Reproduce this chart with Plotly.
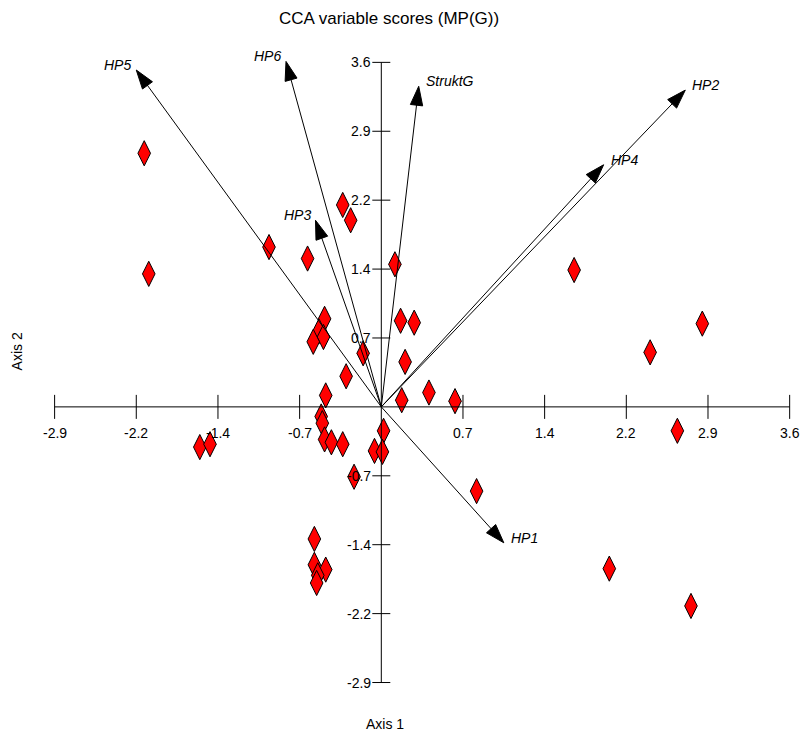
import plotly.graph_objects as go

# ---- data ----
site_x = [-2.09, -2.05, -0.99, -0.65, -0.34, -0.27, 0.12, 1.70, 2.83, 2.37, 2.61,
          0.65, 0.42, 0.21, 0.17, 0.29, 0.18,
          -0.50, -0.55, -0.51, -0.60, -0.16, -0.31, -0.49, -0.53, -0.52, -0.50, -0.44, -0.34,
          0.02, -0.06, 0.01, -0.24, 0.84, -1.60, -1.51,
          -0.59, -0.59, -0.49, -0.56, -0.57, 2.01, 2.73]
site_y = [2.65, 1.39, 1.67, 1.55, 2.11, 1.95, 1.49, 1.43, 0.87, 0.57, -0.25,
          0.06, 0.15, 0.47, 0.90, 0.88, 0.07,
          0.92, 0.79, 0.73, 0.68, 0.56, 0.32, 0.12, -0.10, -0.17, -0.34, -0.37, -0.39,
          -0.25, -0.46, -0.47, -0.73, -0.88, -0.42, -0.39,
          -1.38, -1.65, -1.70, -1.76, -1.84, -1.69, -2.08]

var_names = ["HP5", "HP6", "HP3", "StruktG", "HP2", "HP4", "HP1"]
var_x = [-2.16, -0.84, -0.58, 0.33, 2.68, 1.96, 1.08]
var_y = [3.52, 3.61, 1.95, 3.35, 3.31, 2.53, -1.42]

tick_vals = [-2.88, -2.16, -1.44, -0.72, 0.72, 1.44, 2.16, 2.88, 3.6]
tick_labels = ["-2.9", "-2.2", "-1.4", "-0.7", "0.7", "1.4", "2.2", "2.9", "3.6"]

x_range = [-3.0, 3.7]
y_range = [-3.0, 3.75]

FONT = "Liberation Sans, Arial, sans-serif"

W, H = 803, 735
ox, oy = 381.0, 407.0          # origin position in pixels
sx, sy = 113.5, 95.7           # pixels per unit
L = ox + x_range[0] * sx
Rpx = ox + x_range[1] * sx
T = oy - y_range[1] * sy
Bpx = oy - y_range[0] * sy
R = W - Rpx
B = H - Bpx
pw, ph = Rpx - L, Bpx - T

def px(xp):
    return (xp - L) / pw

def py(yp):
    return (Bpx - yp) / ph

fig = go.Figure()
fig.add_trace(go.Scatter(
    x=site_x, y=site_y, mode="markers",
    marker=dict(symbol="diamond-tall", size=18, color="#ff0000",
                line=dict(color="black", width=1)),
    cliponaxis=False, hoverinfo="x+y", showlegend=False))

# biplot arrows as line + arrow marker
for n, vx, vy in zip(var_names, var_x, var_y):
    fig.add_trace(go.Scatter(
        x=[0, vx], y=[0, vy], mode="lines+markers",
        line=dict(color="black", width=1),
        marker=dict(symbol=["circle", "arrow"], size=[0, 20], angleref="previous",
                    color="black", opacity=1, line=dict(width=1, color="black")),
        cliponaxis=False, name=n, hoverinfo="name", showlegend=False))

shapes = []
annotations = []
for v in tick_vals:
    shapes.append(dict(type="line", xref="x", yref="y", x0=v, x1=v,
                       ysizemode="pixel", yanchor=0, y0=-12, y1=12,
                       line=dict(color="black", width=1)))
    shapes.append(dict(type="line", xref="x", yref="y", y0=v, y1=v,
                       xsizemode="pixel", xanchor=0, x0=-9, x1=9,
                       line=dict(color="black", width=1)))
shapes.append(dict(type="line", xref="x", yref="y", x0=tick_vals[0], x1=tick_vals[-1],
                   y0=0, y1=0, line=dict(color="black", width=1)))
shapes.append(dict(type="line", xref="x", yref="y", y0=tick_vals[0], y1=tick_vals[-1],
                   x0=0, x1=0, line=dict(color="black", width=1)))

for v, t in zip(tick_vals, tick_labels):
    annotations.append(dict(x=v, y=0, xref="x", yref="y", text=t, showarrow=False,
                            yanchor="middle", xanchor="center", yshift=-26,
                            font=dict(family=FONT, size=14, color="black")))
    annotations.append(dict(x=0, y=v, xref="x", yref="y", text=t, showarrow=False,
                            xanchor="right", yanchor="middle", xshift=-8,
                            font=dict(family=FONT, size=14, color="black")))

for n, vx, vy in zip(var_names, var_x, var_y):
    left = vx < 0
    annotations.append(dict(x=vx, y=vy, xref="x", yref="y", text="<i>%s</i>" % n,
                            showarrow=False,
                            xanchor="right" if left else "left", yanchor="middle",
                            xshift=-3 if left else 5, yshift=5,
                            font=dict(family=FONT, size=14, color="black")))

annotations.append(dict(x=px(389), y=py(19), xref="paper", yref="paper",
                        text="CCA variable scores (MP(G))", showarrow=False,
                        xanchor="center", yanchor="middle",
                        font=dict(family=FONT, size=17, color="black")))
annotations.append(dict(x=px(385), y=py(724), xref="paper", yref="paper",
                        text="Axis 1", showarrow=False, xanchor="center", yanchor="middle",
                        font=dict(family=FONT, size=14, color="black")))
annotations.append(dict(x=px(16), y=py(352), xref="paper", yref="paper",
                        text="Axis 2", showarrow=False, xanchor="center", yanchor="middle",
                        textangle=-90,
                        font=dict(family=FONT, size=14, color="black")))

fig.update_layout(
    width=W, height=H,
    margin=dict(l=L, r=R, t=T, b=B, pad=0),
    paper_bgcolor="white", plot_bgcolor="white",
    shapes=shapes, annotations=annotations,
    xaxis=dict(range=x_range, showgrid=False, showticklabels=False, ticks="",
               zeroline=False, showline=False, fixedrange=True),
    yaxis=dict(range=y_range, showgrid=False, showticklabels=False, ticks="",
               zeroline=False, showline=False, fixedrange=True),
    showlegend=False,
)
fig.write_html("out.html", config={"displayModeBar": False},
               post_script="document.body.style.margin='0';")
